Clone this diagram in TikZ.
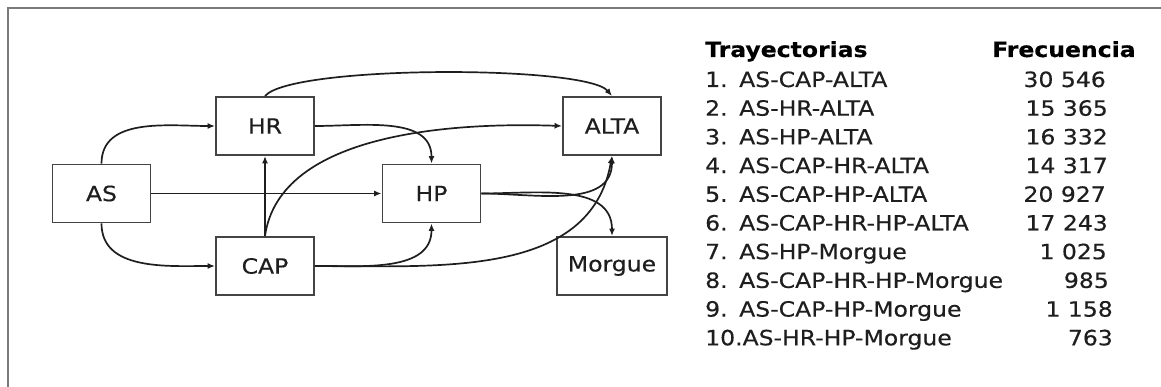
\documentclass[tikz,border=0pt]{standalone}
\usepackage{fontspec}
\setmainfont{DejaVu Sans}[FakeStretch=1.12, FakeBold=0.35]
\usepackage{xcolor}
\usepackage{tikz}
\usetikzlibrary{positioning, arrows.meta}

\definecolor{inkgray}{HTML}{1E1E1E}
\definecolor{linegray}{HTML}{444444}
\definecolor{framegray}{HTML}{7A7A7A}

\begin{document}
\begin{tikzpicture}[
	  x=1pt, y=-1pt,
	  font=\fontsize{21}{25}\selectfont,
	  text=inkgray,
	  box/.style={draw=linegray, line width=1.9pt, minimum width=98pt, minimum height=58pt, inner sep=0pt},
	  arr/.style={-{Latex[length=7.5pt,width=6pt]}, line width=1.7pt, draw=inkgray},
	  frame/.style={draw=framegray, line width=2.2pt},
	  row/.style={anchor=base west, inner sep=0pt},
	  freq/.style={anchor=base east, inner sep=0pt},
	  head/.style={anchor=base west, inner sep=0pt, font=\fontsize{21}{25}\selectfont\bfseries, text=black}
	]

	\useasboundingbox (0,0) rectangle (1161,387);
	\draw[frame] (1161,8) -- (8,8) -- (8,387);

	% estados
	\node[box] (as) at (101.5,193.5) {AS};
	\node[box] (hr) at (265,126) {HR};
	\node[box] (cap) at (265,266) {CAP};
	\node[box] (hp) at (431.5,193.5) {HP};
	\node[box] (alta) at (612,126) {ALTA};
	\node[box, minimum width=110pt] (morgue) at (612,266) {Morgue};

	% transiciones
	\draw[arr] (as.north) to[out=90, in=180] (hr.west);
	\draw[arr] (as.south) to[out=-90, in=180] (cap.west);
	\draw[arr] (as) -- (hp);
	\draw[arr] (cap) -- (hr);
	\draw[arr] (cap.north) to[out=82, in=178, looseness=0.85] (alta.west);
	\draw[arr] (cap.east) to[out=0, in=-90] (hp.south);
	\draw[arr] (cap.east) to[out=0, in=-100] (alta.south);
	\draw[arr] (hr.east) to[out=0, in=90] (hp.north);
	\draw[arr] (hr.north) to[out=50, in=130, looseness=0.3] (alta.north);
	\draw[arr] (hp.east) to[out=0, in=-90] (alta.south);
	\draw[arr] (hp.east) to[out=0, in=90] (morgue.north);

	% tabla de trayectorias
	\node[head] (thead) at (705,57) {Trayectorias};
	\node[head] (fhead) at (992,57) {Frecuencia};

	\node[row] (n1) at (705,87) {1.};
	\node[row] (t1) at (739,87) {AS-CAP-ALTA};
	\node[freq] (f1) at (1106,87) {30 546};
	\node[row] (n2) at (705,115.7) {2.};
	\node[row] (t2) at (739,115.7) {AS-HR-ALTA};
	\node[freq] (f2) at (1108,115.7) {15 365};
	\node[row] (n3) at (705,144.4) {3.};
	\node[row] (t3) at (739,144.4) {AS-HP-ALTA};
	\node[freq] (f3) at (1108,144.4) {16 332};
	\node[row] (n4) at (705,173.1) {4.};
	\node[row] (t4) at (739,173.1) {AS-CAP-HR-ALTA};
	\node[freq] (f4) at (1108,173.1) {14 317};
	\node[row] (n5) at (705,201.8) {5.};
	\node[row] (t5) at (739,201.8) {AS-CAP-HP-ALTA};
	\node[freq] (f5) at (1106,201.8) {20 927};
	\node[row] (n6) at (705,230.5) {6.};
	\node[row] (t6) at (739,230.5) {AS-CAP-HR-HP-ALTA};
	\node[freq] (f6) at (1108,230.5) {17 243};
	\node[row] (n7) at (705,259.2) {7.};
	\node[row] (t7) at (739,259.2) {AS-HP-Morgue};
	\node[freq] (f7) at (1107,259.2) {1 025};
	\node[row] (n8) at (705,287.9) {8.};
	\node[row] (t8) at (739,287.9) {AS-CAP-HR-HP-Morgue};
	\node[freq] (f8) at (1109,287.9) {985};
	\node[row] (n9) at (705,316.6) {9.};
	\node[row] (t9) at (739,316.6) {AS-CAP-HP-Morgue};
	\node[freq] (f9) at (1113,316.6) {1 158};
	\node[row] (t10) at (705,345.3) {10.AS-HR-HP-Morgue};
	\node[freq] (f10) at (1113,345.3) {763};

	\end{tikzpicture}
\end{document}
